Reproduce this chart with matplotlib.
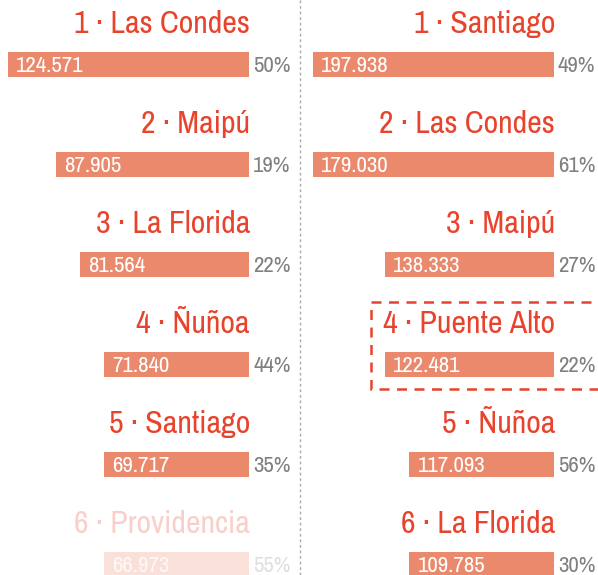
import numpy as np
import matplotlib
matplotlib.use('Agg')
import matplotlib.pyplot as plt
from matplotlib.patches import Rectangle

plt.rcParams['font.family'] = ['Archivo Narrow', 'Liberation Sans', 'DejaVu Sans']

# --- DATA ---
left_names = ['Las Condes', 'Maipú', 'La Florida', 'Ñuñoa', 'Santiago', 'Providencia']
left_values = [124571, 87905, 81564, 71840, 69717, 66973]
left_pct = [50, 19, 22, 44, 35, 55]

right_names = ['Santiago', 'Las Condes', 'Maipú', 'Puente Alto', 'Ñuñoa', 'La Florida']
right_values = [197938, 179030, 138333, 122481, 117093, 109785]
right_pct = [49, 61, 27, 22, 56, 30]

# --- STYLE ---
RED = '#e8432c'
BAR = '#eb896d'
GRAY = '#808080'
W, H = 598, 575
UNIT = 24.1     # px per bar step
ROW = 100


def fmt(v):
    return f"{v:,}".replace(',', '.')


def draw_column(ax, names, values, pcts, right_edge, faded=()):
    vmax = max(values)
    steps = np.ceil(np.array(values) / vmax * 10)
    for i, (name, v, p, s) in enumerate(zip(names, values, pcts, steps)):
        a = 0.25 if i in faded else 1.0
        ty = 33 + i * ROW
        by = 64.5 + i * ROW
        ax.text(right_edge + 1, ty, f"{i + 1} · {name}", ha='right', va='baseline',
                fontsize=23, color=RED, alpha=a)
        left = right_edge - s * UNIT
        ax.barh(by, s * UNIT, left=left, height=25, color=BAR, alpha=a)
        ax.text(left + 8, by + 8, fmt(v), ha='left', va='baseline',
                fontsize=16.5, color='white', alpha=1 if a == 1 else 0.8)
        ax.text(right_edge + 4, by + 8, f"{p}%", ha='left', va='baseline',
                fontsize=16.5, color=GRAY, alpha=a)


fig = plt.figure(figsize=(W / 100, H / 100), dpi=100)
ax = fig.add_axes([0, 0, 1, 1])
ax.set_xlim(0, W)
ax.set_ylim(H, 0)
ax.axis('off')

draw_column(ax, left_names, left_values, left_pct, 249, faded=(5,))
draw_column(ax, right_names, right_values, right_pct, 554)

# separator
ax.plot([300, 300], [0, H], color='#aaaaaa', lw=1, ls=(0, (2, 2)))

# highlight box around Puente Alto
ax.add_patch(Rectangle((371, 302), 240, 87, fill=False, edgecolor=RED,
                       lw=1.8, ls=(0, (4, 3)), clip_on=True))

fig.savefig('out.png', dpi=100)
